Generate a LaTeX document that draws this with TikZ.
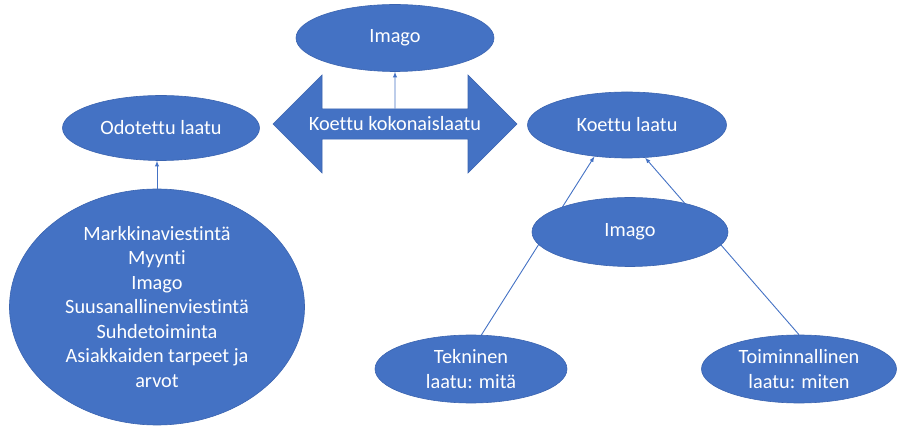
\documentclass[tikz,border=0pt]{standalone}
\usepackage{fontspec}
\setmainfont{Carlito}[Ligatures=NoCommon]
\usetikzlibrary{shapes.geometric}
\usetikzlibrary{shapes.arrows}
\usetikzlibrary{calc}
\definecolor{OfficeBlue}{HTML}{4472C4}
\definecolor{OfficeEdge}{HTML}{3B64B0}
\pgfdeclarelayer{edgelayer}
\pgfsetlayers{edgelayer,main}
\tikzstyle{oval}=[ellipse,fill=OfficeBlue,draw=OfficeEdge,line width=0.6pt,text=white,inner sep=0pt,align=center,font=\fontsize{20.3}{24.5}\selectfont]
\tikzstyle{bigarrow}=[double arrow,fill=OfficeBlue,draw=OfficeEdge,line width=0.6pt,text=white,font=\fontsize{20.3}{24.5}\selectfont]
\tikzset{link/.style={->,>=latex,draw=OfficeBlue,line width=0.9pt}}

\begin{document}
\begin{tikzpicture}[x=1pt,y=-1pt]
    \useasboundingbox (0,0) rectangle (899,427);

    % top middle
    \node [oval, minimum width=198pt, minimum height=67pt] (ImagoTop) at (395,38) {Imago};
    \node [bigarrow, minimum height=244pt, minimum width=98pt, double arrow head extend=24pt] (Kokonais) at (395,124) {Koettu kokonaislaatu};

    % left side
    \node [oval, minimum width=197pt, minimum height=65pt] (Odotettu) at (161,128) {Odotettu laatu};
    \node [oval, minimum width=295pt, minimum height=236pt] (Markkinointi) at (157,307) {Markkinaviestintä\\Myynti\\Imago\\Suusanallinenviestintä\\Suhdetoiminta\\Asiakkaiden tarpeet ja\\arvot};

    % right side
    \node [oval, minimum width=199pt, minimum height=66pt] (Koettu) at (627,125) {Koettu laatu};
    \node [oval, minimum width=196pt, minimum height=69pt] (ImagoRight) at (630,232) {Imago};
    \node [oval, minimum width=192pt, minimum height=68pt] (Tekninen) at (471,369) {Tekninen\\laatu: mitä};
    \node [oval, minimum width=195pt, minimum height=68pt] (Toiminnallinen) at (799,369) {Toiminnallinen\\laatu: miten};

    \draw [link] (Kokonais.north) -- (ImagoTop.south);
    \draw [link] (Markkinointi.north) -- (Markkinointi.north |- Odotettu.south);
    \begin{pgfonlayer}{edgelayer}
        \draw [link] (Tekninen.73) -- (Koettu.224);
        \draw [link] (Toiminnallinen.north) -- (Koettu.299);
    \end{pgfonlayer}
\end{tikzpicture}
\end{document}
